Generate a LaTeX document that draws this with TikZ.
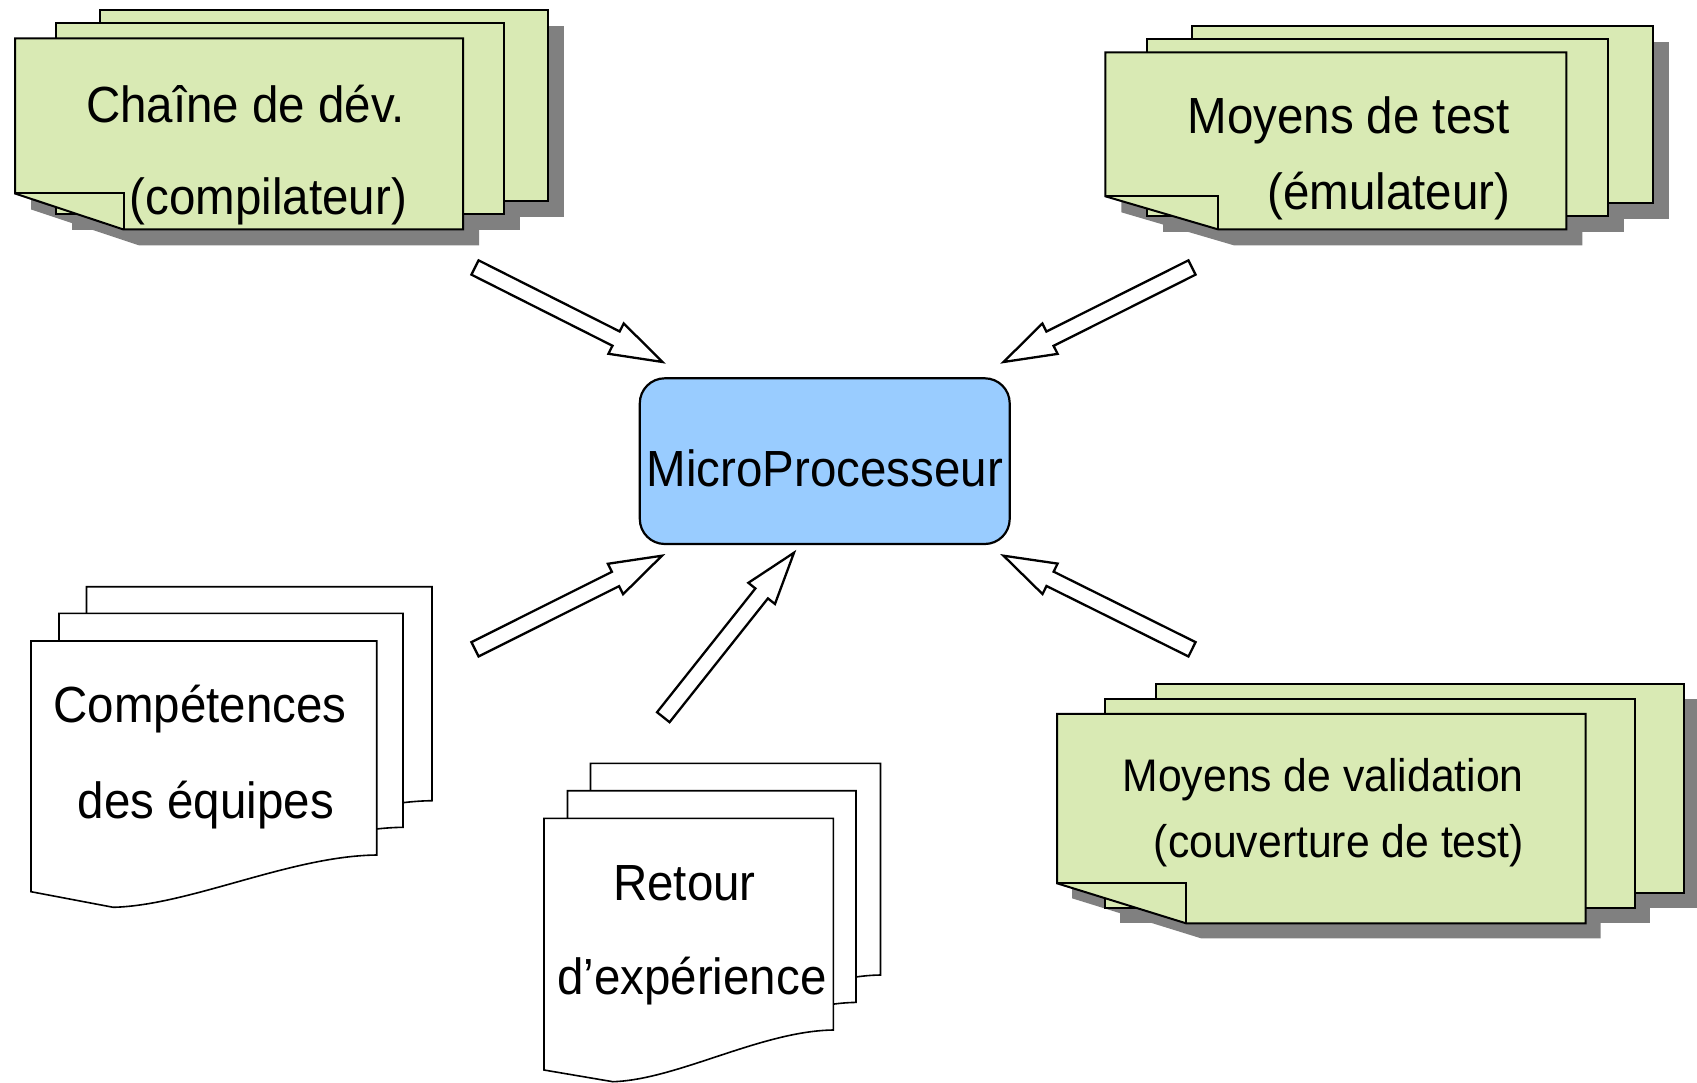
\documentclass[tikz,border=0pt]{standalone}
\usepackage{graphicx}
\usepackage{fontspec}
\setmainfont{Liberation Sans}
\usetikzlibrary{calc}
\definecolor{sheetgreen}{RGB}{217,234,180}
\definecolor{shadowgray}{RGB}{128,128,128}
\definecolor{cpublue}{RGB}{153,204,255}
\tikzset{
  sheetg/.style={draw=black, fill=sheetgreen, line width=2pt, line join=miter},
  foldline/.style={draw=black, line width=2pt},
  shadowg/.style={fill=shadowgray, draw=none},
  sheetw/.style={draw=black, fill=white, line width=1.6pt, line join=miter},
  barrow/.style={draw=black, fill=white, line width=2.3pt, line join=miter},
  cpu/.style={draw=black, fill=cpublue, line width=2.2pt, rounded corners=25pt, inner sep=0pt},
  lbl/.style={anchor=base, inner sep=0pt, font=\fontsize{47.5}{57}\selectfont},
  lblsm/.style={lbl, font=\fontsize{42.7}{51}\selectfont}
}
\newcommand{\tallt}[1]{\scalebox{1}[1.07]{#1}}
% rectangular sheet: style, x, y, w, h
\newcommand{\plainsheet}[5]{\draw[#1] (#2,#3) rectangle ++(#4,#5);}
% sheet with folded lower-left corner: style, x, y, w, h, ear w, ear h
\newcommand{\earsheet}[7]{\draw[#1] (#2,#3) -- ++(#4,0) -- ++(0,#5) -- ++({#6-#4},0) -- ++({-#6},{-#7}) -- cycle;}
% fold lines: x, y, h, ear w, ear h
\newcommand{\earfold}[5]{\draw[foldline] (#1,{#2+#3-#5}) -- ++(#4,0) -- ++(0,#5);}
% document with wavy bottom: x, y, W, right height, left height, lowest point height
\newcommand{\docsheet}[6]{\draw[sheetw] (#1,#2) -- ++(#3,0) -- ++(0,#4)
  .. controls ({#1+0.75*#3},{#2+#4+1}) and ({#1+0.46*#3},{#2+#6-2}) .. ({#1+0.238*#3},{#2+#6})
  -- (#1,{#2+#5}) -- cycle;}
% block arrow from named tail to named tip
\newcommand{\blockarr}[2]{%
  \coordinate (#1-h) at ($(#2)!52pt!(#1)$);
  \draw[barrow] ($(#1)!8pt!90:(#2)$) -- ($(#1-h)!8pt!90:(#2)$) -- ($(#1-h)!17pt!90:(#2)$)
    -- (#2) -- ($(#1-h)!17pt!-90:(#2)$) -- ($(#1-h)!8pt!-90:(#2)$) -- ($(#1)!8pt!-90:(#2)$) -- cycle;}
\begin{document}
\begin{tikzpicture}[x=1pt, y=-1pt]
\fill[white] (0,0) rectangle (1697,1083);
\useasboundingbox (0,0) rectangle (1697,1083);

% ---- top-left stack: Chaine de dev.
\begin{scope}[shift={(16,16)}]
  \plainsheet{shadowg}{99.5}{10.5}{448}{191}
  \plainsheet{shadowg}{55.5}{23}{448}{191}
  \earsheet{shadowg}{15}{38.5}{448}{191}{108.5}{36}
\end{scope}
\plainsheet{sheetg}{99.5}{10.5}{448}{191}
\plainsheet{sheetg}{55.5}{23}{448}{191}
\earsheet{sheetg}{15}{38.5}{448}{191}{108.5}{36}
\earfold{15}{38.5}{191}{108.5}{36}
\node[lbl] (t1a) at (245.5,122.5) {\tallt{Chaîne de dév.}};
\node[lbl] (t1b) at (268.4,214.5) {\tallt{(compilateur)}};

% ---- top-right stack: Moyens de test
\begin{scope}[shift={(16,16)}]
  \plainsheet{shadowg}{1191.5}{26}{461}{177}
  \plainsheet{shadowg}{1147.3}{38.7}{461}{177}
  \earsheet{shadowg}{1105.3}{52.3}{461}{177}{112.5}{33}
\end{scope}
\plainsheet{sheetg}{1191.5}{26}{461}{177}
\plainsheet{sheetg}{1147.3}{38.7}{461}{177}
\earsheet{sheetg}{1105.3}{52.3}{461}{177}{112.5}{33}
\earfold{1105.3}{52.3}{177}{112.5}{33}
\node[lbl] (t2a) at (1348.5,133.8) {\tallt{Moyens de test}};
\node[lbl] (t2b) at (1389,209.5) {\tallt{(émulateur)}};

% ---- bottom-right stack: Moyens de validation
\begin{scope}[shift={(15,15)}]
  \plainsheet{shadowg}{1156}{683.5}{528}{209}
  \plainsheet{shadowg}{1105}{699.2}{529.5}{209}
  \earsheet{shadowg}{1057}{713.8}{528.5}{209.5}{129}{40}
\end{scope}
\plainsheet{sheetg}{1156}{683.5}{528}{209}
\plainsheet{sheetg}{1105}{699.2}{529.5}{209}
\earsheet{sheetg}{1057}{713.8}{528.5}{209.5}{129}{40}
\earfold{1057}{713.8}{209.5}{129}{40}
\node[lblsm] (t3a) at (1323.2,791.3) {\tallt{Moyens de validation}};
\node[lblsm] (t3b) at (1339,857.5) {\tallt{(couverture de test)}};

% ---- bottom-left documents: Competences
\docsheet{86.5}{586.7}{345.5}{214}{250.7}{266.3}
\docsheet{59}{613.3}{344}{214}{250.7}{266.3}
\docsheet{31}{641}{345.7}{214}{250.7}{266.3}
\node[lbl] (t4a) at (200,722) {\tallt{Compétences}};
\node[lbl] (t4b) at (205.8,818.5) {\tallt{des équipes}};

% ---- bottom documents: Retour d'experience
\docsheet{590.5}{763.3}{290}{211.7}{251.7}{263.4}
\docsheet{567.5}{790.7}{288.5}{211.7}{251.7}{263.4}
\docsheet{544}{818.3}{289.3}{211.7}{251.7}{263.4}
\node[lbl] (t5a) at (684.5,900.6) {\tallt{Retour}};
\node[lbl] (t5b) at (691.8,994) {\tallt{d’expérience}};

% ---- central box
\node[cpu, minimum width=369.9pt, minimum height=165.7pt] (cpu) at (824.75,461.15) {};
\node[lbl] (cputxt) at (824.8,486) {\tallt{MicroProcesseur}};

% ---- block arrows
\coordinate (tlA) at (475,267.5);   \coordinate (tlB) at (662.5,362);
\coordinate (trA) at (1192,267.5);  \coordinate (trB) at (1003.5,362);
\coordinate (blA) at (475,649.3);   \coordinate (blB) at (662,555.7);
\coordinate (brA) at (1192,649.3);  \coordinate (brB) at (1003.5,555.7);
\coordinate (bcA) at (663.3,717.2); \coordinate (bcB) at (794,552.7);
\blockarr{tlA}{tlB}
\blockarr{trA}{trB}
\blockarr{blA}{blB}
\blockarr{brA}{brB}
\blockarr{bcA}{bcB}
\end{tikzpicture}
\end{document}
